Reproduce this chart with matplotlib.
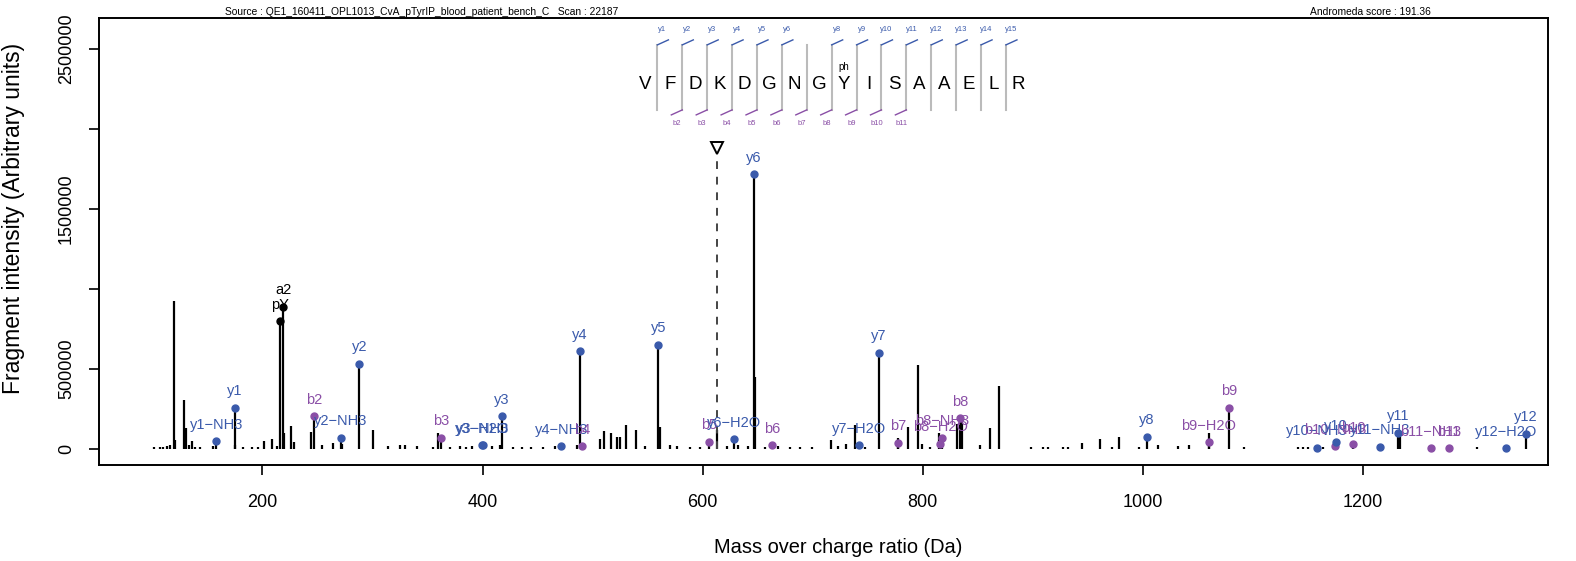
import matplotlib
matplotlib.use('Agg')
import matplotlib.pyplot as plt

plt.rcParams['font.family'] = ['Liberation Sans', 'DejaVu Sans']

# ---- data ----
# unannotated fragment peaks (m/z, intensity)
peak_mz = [101.0, 107.0, 110.0, 113.0, 116.0, 119.8, 120.7, 128.7, 130.4, 133.3,
           135.8, 138.8, 143.4, 154.9, 175.2, 182.7, 190.4, 196.4, 201.0, 208.5,
           213.1, 219.8, 226.1, 229.1, 244.3, 254.0, 264.0, 272.7, 300.9, 314.5,
           325.1, 329.7, 340.3, 355.4, 359.4, 370.6, 379.6, 385.1, 390.3, 408.5,
           415.9, 428.1, 435.7, 444.2, 455.4, 465.9, 485.7, 506.9, 510.5, 516.6,
           522.0, 525.0, 530.5, 539.3, 547.8, 561.4, 570.5, 576.6, 588.6, 597.7,
           613.4, 622.0, 632.3, 641.6, 647.7, 656.8, 668.6, 679.5, 688.6, 699.5,
           716.5, 723.1, 730.4, 738.8, 747.6, 777.4, 787.0, 795.8, 799.2, 806.7,
           815.0, 831.6, 835.5, 852.2, 861.3, 869.7, 898.2, 909.4, 913.9, 927.5,
           932.1, 944.6, 961.2, 971.8, 978.7, 996.9, 1014.2, 1032.1, 1042.3, 1060.2,
           1092.0, 1141.4, 1145.7, 1150.5, 1163.9, 1233.9, 1303.5]
peak_int = [8e3, 10e3, 12e3, 15e3, 20e3, 924e3, 51e3, 302e3, 127e3, 20e3,
            45e3, 10e3, 8e3, 15e3, 25e3, 10e3, 8e3, 10e3, 45e3, 60e3,
            15e3, 95e3, 141e3, 40e3, 103e3, 20e3, 35e3, 30e3, 114e3, 15e3,
            20e3, 20e3, 15e3, 12e3, 97e3, 12e3, 15e3, 10e3, 15e3, 15e3,
            20e3, 10e3, 8e3, 8e3, 10e3, 15e3, 20e3, 62e3, 110e3, 100e3,
            72e3, 73e3, 145e3, 118e3, 15e3, 135e3, 20e3, 15e3, 12e3, 10e3,
            114e3, 15e3, 20e3, 15e3, 448e3, 12e3, 15e3, 12e3, 10e3, 8e3,
            56e3, 15e3, 30e3, 150e3, 10e3, 64e3, 135e3, 521e3, 30e3, 10e3,
            95e3, 156e3, 177e3, 20e3, 128e3, 392e3, 10e3, 10e3, 12e3, 10e3,
            12e3, 35e3, 58e3, 12e3, 72e3, 10e3, 20e3, 15e3, 20e3, 100e3,
            12e3, 8e3, 8e3, 10e3, 8e3, 97e3, 8e3]

# annotated fragment ions
ion_names = ['y1-NH3', 'y1', 'pY', 'a2', 'b2', 'y2-NH3', 'y2', 'b3', 'y3-NH3', 'y3-H2O',
             'y3', 'y4-NH3', 'y4', 'b4', 'y5', 'b5', 'y6-H2O', 'y6', 'b6', 'y7-H2O',
             'y7', 'b7', 'b8-H2O', 'b8-NH3', 'b8', 'y8', 'b9-H2O', 'b9', 'y10-NH3', 'b10-NH3',
             'y10', 'b10', 'y11-NH3', 'y11', 'b11-NH3', 'b11', 'y12-H2O', 'y12']
ion_mz = [157.9, 174.9, 216.1, 218.8, 247.0, 271.2, 288.1, 362.1, 400.3, 399.6,
          417.8, 471.7, 488.7, 490.5, 559.8, 606.2, 628.9, 646.8, 662.9, 742.2,
          760.4, 777.4, 816.1, 817.4, 834.0, 1003.9, 1060.2, 1078.2, 1158.2, 1174.8,
          1175.7, 1191.4, 1215.7, 1231.8, 1261.7, 1278.3, 1329.9, 1348.1]
ion_int = [45e3, 254e3, 797e3, 887e3, 202e3, 68e3, 532e3, 68e3, 20e3, 20e3,
           202e3, 14e3, 609e3, 14e3, 649e3, 41e3, 58e3, 1716e3, 20e3, 20e3,
           601e3, 37e3, 31e3, 68e3, 189e3, 72e3, 39e3, 256e3, 3e3, 14e3,
           39e3, 26e3, 9e3, 97e3, 1e3, 1e3, 1e3, 93e3]

precursor_mz = 612.9
precursor_top = 1.88e6

sequence = list('VFDKDGNGYISAAELR')
y_ticks_shown = [1, 2, 3, 4, 5, 6, 8, 9, 10, 11, 12, 13, 14, 15]
b_ticks_shown = [2, 3, 4, 5, 6, 7, 8, 9, 10, 11]
phospho_pos = 9  # Y

source_text = 'Source : QE1_160411_OPL1013_CvA_pTyrIP_blood_patient_bench_C   Scan : 22187'
score_text = 'Andromeda score : 191.36'

y_col = '#3a5aab'
b_col = '#8a4fa6'


def ion_color(name):
    if name.startswith('y'):
        return y_col
    if name.startswith('b'):
        return b_col
    return 'black'


fig = plt.figure(figsize=(15.76, 5.61), dpi=100)
ax = fig.add_axes([0.0625, 0.172, 0.9195, 0.796])

# spectrum
ax.vlines(peak_mz, 0, peak_int, color='black', lw=1.6)
ax.vlines(ion_mz, 0, ion_int, color='black', lw=1.6)
for name, mz, it in zip(ion_names, ion_mz, ion_int):
    c = ion_color(name)
    ax.plot(mz, it, 'o', color=c, ms=5, zorder=3)
    ax.annotate(name.replace('-', '\u2212'), (mz, it), xytext=(0, 12), textcoords='offset points',
                ha='center', va='center', color=c, fontsize=10.5)

# precursor marker
ax.vlines(precursor_mz, 0, precursor_top - 3e4, color='#444444', lw=1.4,
          linestyles=(0, (4, 4)))
ax.plot(precursor_mz, precursor_top, 'v', ms=8, mfc='white', mec='black', mew=1.4, zorder=4)

ax.set_xlim(51, 1368)
ax.set_ylim(-1.0e5, 2.695e6)
ax.set_xticks([200, 400, 600, 800, 1000, 1200])
ax.set_yticks([0, 500000, 1000000, 1500000, 2000000, 2500000])
ax.set_yticklabels(['0', '500000', '', '1500000', '', '2500000'], rotation=90, va='center')
ax.tick_params(axis='x', labelsize=13, length=7, width=1.2, pad=14)
ax.tick_params(axis='y', labelsize=13, length=7, width=1.2, pad=10)
for s in ax.spines.values():
    s.set_linewidth(1.4)

ax.set_xlabel('Mass over charge ratio (Da)', fontsize=14.4)
ax.xaxis.set_label_coords(0.5107, -0.165)
ax.set_ylabel('Fragment intensity (Arbitrary units)', fontsize=16.5)
ax.yaxis.set_label_coords(-0.051, 0.55)

# header texts
ax.text(0.2232, 1.0137, source_text, transform=ax.transAxes, ha='center', va='center', fontsize=7.4)
ax.text(0.878, 1.0137, score_text, transform=ax.transAxes, ha='center', va='center', fontsize=7.4)

# peptide fragmentation diagram (axes fractions)
x0, dx = 0.3771, 0.01718
y_letter, y_top, y_bot = 0.8514, 0.9397, 0.7941
tick_dx, tick_dy = 0.00759, 0.0112
for i, aa in enumerate(sequence):
    ax.text(x0 + i * dx, y_letter, aa, transform=ax.transAxes, ha='center', va='center',
            fontsize=13.5)
for k in range(1, len(sequence)):
    xs = x0 + (k - 0.5) * dx
    ax.plot([xs, xs], [y_bot, y_top], transform=ax.transAxes, color='#bbbbbb', lw=1.5)
    if k in y_ticks_shown:
        ax.plot([xs, xs + tick_dx], [y_top, y_top + tick_dy], transform=ax.transAxes,
                color=y_col, lw=1)
        ax.text(xs + 0.0035, 0.9733, 'y%d' % k, transform=ax.transAxes, ha='center',
                va='center', fontsize=5.5, color=y_col)
    if k in b_ticks_shown:
        ax.plot([xs, xs - tick_dx], [y_bot, y_bot - tick_dy], transform=ax.transAxes,
                color=b_col, lw=1)
        ax.text(xs - 0.0035, 0.7641, 'b%d' % k, transform=ax.transAxes, ha='center',
                va='center', fontsize=5.5, color=b_col)
ax.text(x0 + (phospho_pos - 1) * dx, 0.8911, 'ph', transform=ax.transAxes, ha='center',
        va='center', fontsize=7)

fig.savefig('out.png', dpi=100)
